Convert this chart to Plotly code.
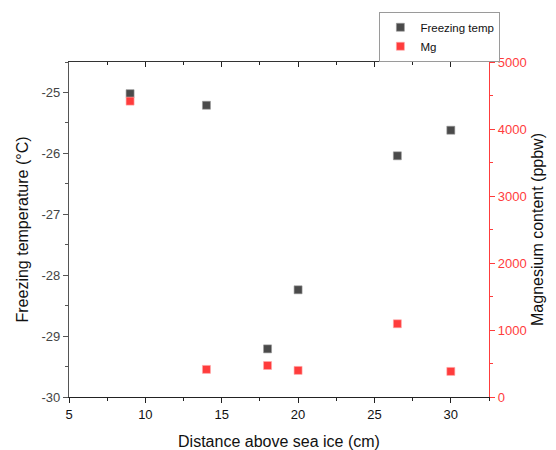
import plotly.graph_objects as go

distance = [9, 14, 18, 20, 26.5, 30]
freezing_temp = [-25.02, -25.21, -29.21, -28.24, -26.04, -25.62]
mg = [4416, 412, 470, 397, 1093, 382]

x_ticks = [5, 10, 15, 20, 25, 30]
y_ticks = [-30, -29, -28, -27, -26, -25]
y_ticktext = ["-30", "-29", "-28", "-27", "-26", "-25"]
y2_ticks = [0, 1000, 2000, 3000, 4000, 5000]

GRAY = "#4a4a4a"
RED = "#ff3c3c"
FONT = "Liberation Sans, Arial, sans-serif"

fig = go.Figure()
fig.add_trace(go.Scatter(
    x=distance, y=freezing_temp, mode="markers", name="Freezing temp",
    marker=dict(symbol="square", size=8, color=GRAY, line=dict(color="#9a9a9a", width=0.6)),
    yaxis="y",
))
fig.add_trace(go.Scatter(
    x=distance, y=mg, mode="markers", name="Mg",
    marker=dict(symbol="square", size=8, color=RED, line=dict(color="#ffaaaa", width=0.6)),
    yaxis="y2",
))
# invisible trace for top axis
fig.add_trace(go.Scatter(x=distance, y=freezing_temp, xaxis="x2", yaxis="y",
                         mode="markers", marker=dict(opacity=0), showlegend=False,
                         hoverinfo="skip"))

fig.update_layout(
    width=556, height=450,
    margin=dict(l=69, r=65, t=57, b=53),
    paper_bgcolor="white", plot_bgcolor="white",
    font=dict(family=FONT, size=13, color="#222"),
    showlegend=True,
    legend=dict(
        x=0.739, y=1.15, xanchor="left", yanchor="top",
        bordercolor="#9a9a9a", borderwidth=1, bgcolor="white",
        font=dict(size=11.5, color="#111"),
        tracegroupgap=0, itemwidth=30,
    ),
    xaxis=dict(
        range=[5, 32.5], tickvals=x_ticks, ticks="outside", ticklen=5, tickwidth=1,
        tickcolor="#222", showline=True, linecolor="#222", linewidth=1.3,
        showgrid=False, zeroline=False, automargin=False,
        minor=dict(ticks="outside", dtick=2.5, ticklen=3, tickcolor="#222"),
        title=dict(text="Distance above sea ice (cm)", font=dict(size=16, color="#111")),
        tickfont=dict(size=13, color="#111"),
    ),
    xaxis2=dict(
        range=[5, 32.5], overlaying="x", side="top", tickvals=x_ticks,
        ticks="inside", ticklen=5, tickcolor="#222", showticklabels=False,
        showline=True, linecolor="#333", linewidth=1.3, showgrid=False, zeroline=False,
        automargin=False,
        minor=dict(ticks="inside", dtick=2.5, ticklen=3, tickcolor="#222"),
    ),
    yaxis=dict(
        range=[-30, -24.5], tickvals=y_ticks, ticktext=y_ticktext,
        ticks="outside", ticklen=5, tickcolor="#555",
        showline=True, linecolor="#555", linewidth=1.3, showgrid=False, zeroline=False,
        minor=dict(ticks="outside", dtick=0.5, ticklen=3, tickcolor="#555"),
        title=dict(text="Freezing temperature (°C)", font=dict(size=16, color="#111"), standoff=8),
        tickfont=dict(size=13, color="#444"),
    ),
    yaxis2=dict(
        range=[0, 5000], tickvals=y2_ticks, overlaying="y", side="right",
        ticks="outside", ticklen=5, tickcolor=RED,
        showline=True, linecolor=RED, linewidth=1.3, showgrid=False, zeroline=False,
        minor=dict(ticks="outside", dtick=500, ticklen=3, tickcolor=RED),
        title=dict(text="Magnesium content (ppbw)", font=dict(size=16, color="#111"), standoff=6),
        tickfont=dict(size=13, color=RED),
    ),
)

fig.write_html("out.html", config={"displayModeBar": False},
               post_script="document.body.style.margin='0';document.body.style.padding='0';")
